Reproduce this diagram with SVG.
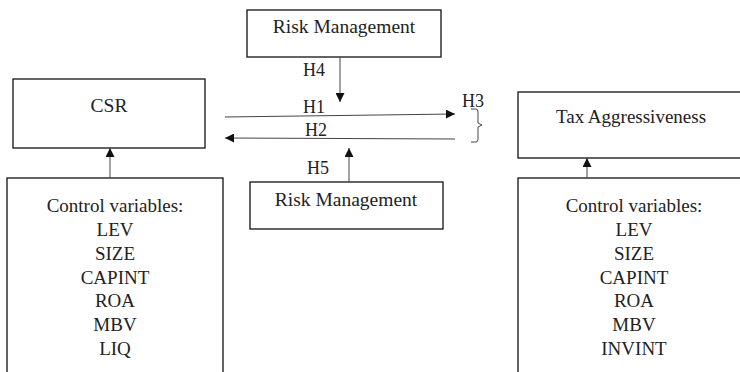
<svg xmlns="http://www.w3.org/2000/svg" width="740" height="372" viewBox="0 0 740 372">
<style>
.box{fill:#fff;stroke:#111;stroke-width:1.3}
.t{font-family:"Liberation Serif","Times New Roman",serif;fill:#222;text-anchor:middle;font-size:19.5px}
.cv{font-size:19px}
.tax{font-size:19px}
.h{font-size:18px}
.c{stroke:#444;stroke-width:1;fill:none}
</style>
<defs>
<marker id="ah" viewBox="0 0 10 10" refX="10" refY="5" markerWidth="9" markerHeight="9" markerUnits="userSpaceOnUse" orient="auto">
<path d="M0,0 L10,5 L0,10 Z" fill="#111"/>
</marker>
</defs>
<rect width="740" height="372" fill="#fff"/>
<g id="risk-top">
<rect class="box" x="247" y="10" width="194" height="47"/>
<text class="t" x="344" y="33">Risk Management</text>
</g>
<g id="csr">
<rect class="box" x="13" y="79" width="192" height="69"/>
<text class="t" x="109" y="112">CSR</text>
</g>
<g id="tax">
<rect class="box" x="518" y="92" width="240" height="66"/>
<text class="t tax" x="631" y="123">Tax Aggressiveness</text>
</g>
<g id="risk-bottom">
<rect class="box" x="250" y="182" width="193" height="47"/>
<text class="t" x="346" y="206">Risk Management</text>
</g>
<g id="control-left">
<rect class="box" x="7" y="178" width="216" height="210"/>
<text class="t cv" x="115" y="212">Control variables:</text>
<text class="t cv" x="115" y="236">LEV</text>
<text class="t cv" x="115" y="260">SIZE</text>
<text class="t cv" x="115" y="284">CAPINT</text>
<text class="t cv" x="115" y="307">ROA</text>
<text class="t cv" x="115" y="331">MBV</text>
<text class="t cv" x="115" y="355">LIQ</text>
</g>
<g id="control-right">
<rect class="box" x="518" y="178" width="240" height="210"/>
<text class="t cv" x="634" y="212">Control variables:</text>
<text class="t cv" x="634" y="236">LEV</text>
<text class="t cv" x="634" y="260">SIZE</text>
<text class="t cv" x="634" y="284">CAPINT</text>
<text class="t cv" x="634" y="307">ROA</text>
<text class="t cv" x="634" y="331">MBV</text>
<text class="t cv" x="634" y="355">INVINT</text>
</g>
<g id="connectors">
<line class="c" x1="110" y1="178" x2="110" y2="148" marker-end="url(#ah)"/>
<line class="c" x1="587" y1="178" x2="587" y2="158" marker-end="url(#ah)"/>
<line class="c" x1="340" y1="57" x2="340" y2="102" marker-end="url(#ah)"/>
<line class="c" x1="349" y1="182" x2="349" y2="148" marker-end="url(#ah)"/>
<line class="c" x1="225" y1="117" x2="455" y2="114" marker-end="url(#ah)"/>
<line class="c" x1="455" y1="139" x2="225" y2="138" marker-end="url(#ah)"/>
<path class="c" d="M471,109 L476,109 Q478,109 478,112 L478,123 L482,125 L478,127 L478,139 Q478,142 476,142 L471,142"/>
<text class="t h" x="314" y="76">H4</text>
<text class="t h" x="314" y="113">H1</text>
<text class="t h" x="316" y="136">H2</text>
<text class="t h" x="473" y="107">H3</text>
<text class="t h" x="318" y="174">H5</text>
</g>
</svg>
